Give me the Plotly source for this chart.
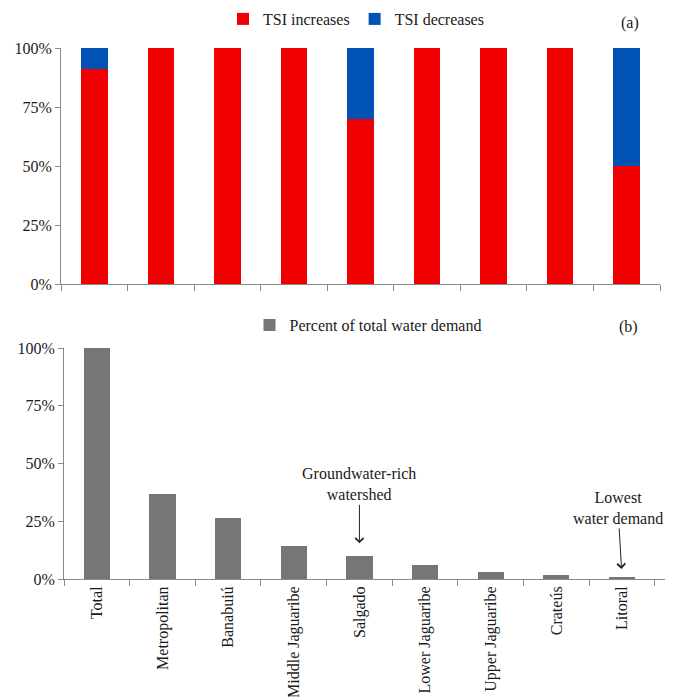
import plotly.graph_objects as go

# Watersheds (x categories shared by both panels)
watersheds = ["Total", "Metropolitan", "Banabuiú", "Middle Jaguaribe", "Salgado",
              "Lower Jaguaribe", "Upper Jaguaribe", "Crateús", "Litoral"]

# Panel (a): share of reservoirs where TSI increases / decreases
tsi_increases = [0.91, 1.00, 1.00, 1.00, 0.70, 1.00, 1.00, 1.00, 0.50]
tsi_decreases = [0.09, 0.00, 0.00, 0.00, 0.30, 0.00, 0.00, 0.00, 0.50]

# Panel (b): percent of total water demand
water_demand = [1.00, 0.37, 0.263, 0.144, 0.098, 0.059, 0.029, 0.017, 0.009]

y_ticks = [0, 0.25, 0.5, 0.75, 1.0]
y_ticktext = ["0%", "25%", "50%", "75%", "100%"]

W, H = 680, 697
FONT = "Liberation Serif"
FS = 16
TXT = "#1a1a1a"
AXIS = "#8a8a8a"


def px_x(p):
    return p / W


def px_y(p):
    return 1 - p / H


fig = go.Figure()

fig.add_trace(go.Bar(x=watersheds, y=tsi_increases, name="TSI increases",
                     marker=dict(color="#f00000", line=dict(width=0)),
                     xaxis="x", yaxis="y", legend="legend"))
fig.add_trace(go.Bar(x=watersheds, y=tsi_decreases, name="TSI decreases",
                     marker=dict(color="#0052b4", line=dict(width=0)),
                     xaxis="x", yaxis="y", legend="legend"))
fig.add_trace(go.Bar(x=watersheds, y=water_demand, name="Percent of total water demand",
                     marker=dict(color="#767676", line=dict(width=0)),
                     xaxis="x2", yaxis="y2", legend="legend2"))

common_x = dict(type="category", showline=True, linecolor=AXIS, linewidth=1,
                ticks="outside", tickson="boundaries", ticklen=6, tickcolor=AXIS,
                showgrid=False, zeroline=False, automargin=False)
common_y = dict(range=[0, 1], tickvals=y_ticks, ticktext=y_ticktext,
                showline=True, linecolor=AXIS, linewidth=1,
                ticks="outside", ticklen=5, tickcolor=AXIS,
                showgrid=False, zeroline=False, automargin=False,
                tickfont=dict(family=FONT, size=FS, color=TXT))

fig.update_layout(
    width=W, height=H,
    margin=dict(l=0, r=0, t=0, b=0, pad=0, autoexpand=False),
    paper_bgcolor="white", plot_bgcolor="white",
    barmode="stack", bargap=0.6,
    font=dict(family=FONT, size=FS, color=TXT),
    xaxis=dict(**common_x, domain=[px_x(61), px_x(660)], anchor="y",
               showticklabels=False),
    yaxis=dict(**common_y, domain=[px_y(284), px_y(48)], anchor="x"),
    xaxis2=dict(**common_x, domain=[px_x(64), px_x(665)], anchor="y2",
                tickangle=-90, tickfont=dict(family=FONT, size=FS, color=TXT)),
    yaxis2=dict(**common_y, domain=[px_y(579), px_y(348)], anchor="x2"),
    legend=dict(orientation="h", x=px_x(356), y=px_y(19), xanchor="center",
                yanchor="middle", font=dict(family=FONT, size=FS, color=TXT),
                itemwidth=30, traceorder="normal", bgcolor="rgba(0,0,0,0)"),
    legend2=dict(orientation="h", x=px_x(368), y=px_y(325), xanchor="center",
                 yanchor="middle", font=dict(family=FONT, size=FS, color=TXT),
                 itemwidth=30, bgcolor="rgba(0,0,0,0)"),
    showlegend=True,
)

annotations = [
    dict(text="(a)", x=px_x(630), y=px_y(23), xref="paper", yref="paper",
         xanchor="center", yanchor="middle", showarrow=False,
         font=dict(family=FONT, size=FS, color=TXT)),
    dict(text="(b)", x=px_x(628), y=px_y(327), xref="paper", yref="paper",
         xanchor="center", yanchor="middle", showarrow=False,
         font=dict(family=FONT, size=FS, color=TXT)),
    dict(text="Groundwater-rich<br>watershed", x="Salgado",
         y=water_demand[watersheds.index("Salgado")], xref="x2", yref="y2",
         showarrow=True, ax=0, ay=-72, standoff=13, arrowhead=4, arrowsize=1.6,
         arrowwidth=1, arrowcolor="#222222",
         font=dict(family=FONT, size=FS, color=TXT)),
    dict(text="Lowest<br>water demand", x="Litoral",
         y=water_demand[watersheds.index("Litoral")], xref="x2", yref="y2",
         showarrow=True, ax=-4, ay=-69, standoff=8, arrowhead=4, arrowsize=1.6,
         arrowwidth=1, arrowcolor="#222222",
         font=dict(family=FONT, size=FS, color=TXT)),
]
fig.update_layout(annotations=annotations)

fig.write_html("out.html")
